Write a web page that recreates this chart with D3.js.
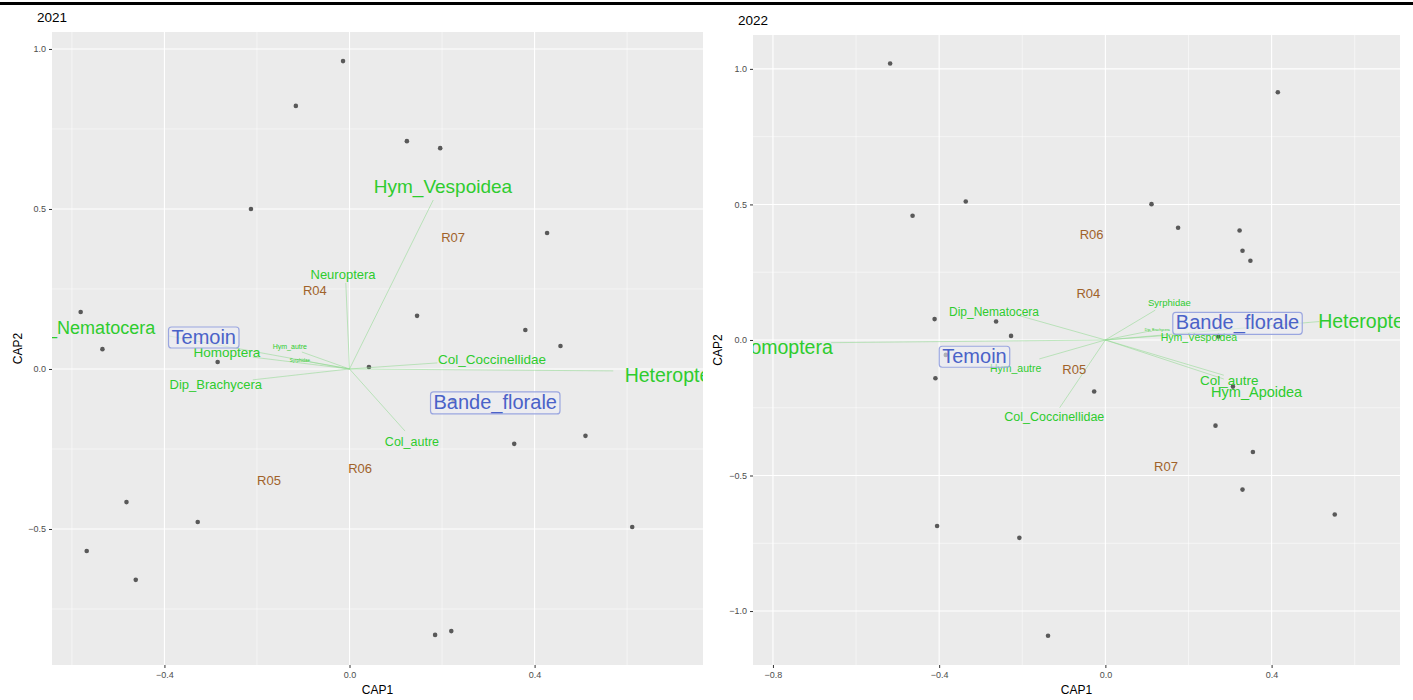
<!DOCTYPE html>
<html><head><meta charset="utf-8">
<script src="https://cdn.jsdelivr.net/npm/d3@7"></script>
<style>body{margin:0;background:#fff;} text{font-family:"Liberation Sans",Arial,sans-serif;}</style>
</head><body>
<svg id="c" width="1413" height="700"></svg>
<script>
// ---------- 2021 data ----------
const sites2021X = [-0.014,-0.116,0.124,0.196,-0.213,0.427,-0.581,0.146,0.380,-0.534,0.456,-0.285,0.042,0.356,0.510,-0.482,-0.328,-0.568,-0.462,0.611,0.185,0.220,0.225];
const sites2021Y = [0.962,0.822,0.712,0.690,0.500,0.425,0.178,0.166,0.122,0.062,0.072,0.022,0.006,-0.234,-0.209,-0.416,-0.478,-0.569,-0.659,-0.494,-0.831,-0.819,-0.100];
const env2021Names = ["Hym_Vespoidea","Neuroptera","Dip_Nematocera","Homoptera","Hym_autre","Syrphidae","Dip_Brachycera","Col_Coccinellidae","Heteroptera","Col_autre"];
const env2021TipX = [0.181,-0.008,-0.390,-0.209,-0.103,-0.086,-0.209,0.190,0.570,0.120];
const env2021TipY = [0.528,0.269,0.103,0.037,0.053,0.022,-0.034,0.019,-0.006,-0.194];
const env2021LabX = [0.202,-0.014,-0.566,-0.265,-0.129,-0.107,-0.289,0.308,0.706,0.135];
const env2021LabY = [0.569,0.294,0.128,0.053,0.069,0.025,-0.047,0.031,-0.019,-0.228];
const rep2021Names = ["R04","R07","R05","R06"];
const rep2021X = [-0.075,0.224,-0.174,0.023];
const rep2021Y = [0.244,0.410,-0.350,-0.312];
const trt2021Names = ["Temoin","Bande_florale"];
const trt2021X = [-0.315,0.315];
const trt2021Y = [0.100,-0.103];

// ---------- 2022 data ----------
const sites2022X = [-0.518,-0.464,-0.336,0.111,0.175,0.323,0.330,0.349,0.415,-0.411,-0.263,-0.227,-0.409,-0.027,0.272,0.307,0.265,0.355,0.330,0.552,-0.405,-0.207,-0.138,-0.384];
const sites2022Y = [1.020,0.458,0.511,0.501,0.414,0.404,0.329,0.292,0.914,0.077,0.068,0.015,-0.141,-0.190,0.013,-0.172,-0.316,-0.413,-0.552,-0.644,-0.686,-0.730,-1.091,-0.055];
const env2022Names = ["Homoptera","Dip_Nematocera","Hym_autre","Col_Coccinellidae","Syrphidae","Dip_Brachycera","Heteroptera","Hym_Vespoidea","Col_autre","Hym_Apoidea"];
const env2022TipX = [-0.660,-0.208,-0.159,-0.110,0.120,0.110,0.515,0.140,0.285,0.285];
const env2022TipY = [-0.010,0.090,-0.070,-0.250,0.110,0.034,0.068,0.016,-0.130,-0.144];
const env2022LabX = [-0.772,-0.268,-0.216,-0.123,0.154,0.125,0.636,0.225,0.298,0.364];
const env2022LabY = [-0.025,0.103,-0.105,-0.283,0.137,0.036,0.071,0.012,-0.151,-0.193];
const rep2022Names = ["R06","R04","R05","R07"];
const rep2022X = [-0.033,-0.041,-0.075,0.146];
const rep2022Y = [0.390,0.173,-0.109,-0.466];
const trt2022Names = ["Temoin","Bande_florale"];
const trt2022X = [-0.315,0.318];
const trt2022Y = [-0.060,0.065];

const xTicks2021 = [-0.4,0.0,0.4], xMinor2021 = [-0.6,-0.2,0.2,0.6];
const yTicks2021 = [1.0,0.5,0.0,-0.5], yMinor2021 = [0.75,0.25,-0.25,-0.75];
const xTicks2022 = [-0.8,-0.4,0.0,0.4], xMinor2022 = [-0.6,-0.2,0.2,0.6];
const yTicks2022 = [1.0,0.5,0.0,-0.5,-1.0], yMinor2022 = [0.75,0.25,-0.25,-0.75];

// label font sizes (style)
const sizes2021 = {"Hym_Vespoidea":19,"Neuroptera":13,"Dip_Nematocera":18,"Homoptera":13.5,"Hym_autre":7,"Syrphidae":4.5,"Dip_Brachycera":13,"Col_Coccinellidae":13.5,"Heteroptera":19.5,"Col_autre":12.5};
const sizes2022 = {"Homoptera":19.5,"Dip_Nematocera":12,"Hym_autre":10.5,"Col_Coccinellidae":12.5,"Syrphidae":9.5,"Dip_Brachycera":3.5,"Heteroptera":19.5,"Hym_Vespoidea":10.5,"Col_autre":13.5,"Hym_Apoidea":14.5};

const svg = d3.select("#c");
svg.append("rect").attr("x",0).attr("y",2).attr("width",1413).attr("height",3).attr("fill","#000");

function panel(o){
  const g = svg.append("g");
  const x = d3.scaleLinear().domain(o.xd).range([o.x0,o.x1]);
  const y = d3.scaleLinear().domain(o.yd).range([o.y1,o.y0]);
  const id = "clip"+o.title;
  svg.append("clipPath").attr("id",id).append("rect").attr("x",o.x0).attr("y",o.y0).attr("width",o.x1-o.x0).attr("height",o.y1-o.y0);
  g.append("rect").attr("x",o.x0).attr("y",o.y0).attr("width",o.x1-o.x0).attr("height",o.y1-o.y0).attr("fill","#EBEBEB");
  const pg = g.append("g").attr("clip-path",`url(#${id})`);
  pg.selectAll(".vm").data(o.xMinor).join("line").attr("x1",d=>x(d)).attr("x2",d=>x(d)).attr("y1",o.y0).attr("y2",o.y1).attr("stroke","#fff").attr("stroke-width",0.5);
  pg.selectAll(".hm").data(o.yMinor).join("line").attr("y1",d=>y(d)).attr("y2",d=>y(d)).attr("x1",o.x0).attr("x2",o.x1).attr("stroke","#fff").attr("stroke-width",0.5);
  pg.selectAll(".vM").data(o.xTicks).join("line").attr("x1",d=>x(d)).attr("x2",d=>x(d)).attr("y1",o.y0).attr("y2",o.y1).attr("stroke","#fff").attr("stroke-width",1.1);
  pg.selectAll(".hM").data(o.yTicks).join("line").attr("y1",d=>y(d)).attr("y2",d=>y(d)).attr("x1",o.x0).attr("x2",o.x1).attr("stroke","#fff").attr("stroke-width",1.1);
  // points
  pg.selectAll(".pt").data(o.sx.map((v,i)=>[v,o.sy[i]])).join("circle").attr("cx",d=>x(d[0])).attr("cy",d=>y(d[1])).attr("r",2.3).attr("fill","#595959");
  // env vectors
  const env = o.en.map((n,i)=>({n, tx:o.tx[i], ty:o.ty[i], lx:o.lx[i], ly:o.ly[i]}));
  pg.selectAll(".seg").data(env).join("line").attr("x1",x(0)).attr("y1",y(0)).attr("x2",d=>x(d.tx)).attr("y2",d=>y(d.ty)).attr("stroke","#8fd88f").attr("stroke-opacity",0.55).attr("stroke-width",1);
  pg.selectAll(".el").data(env).join("text").attr("x",d=>x(d.lx)).attr("y",d=>y(d.ly)).attr("text-anchor","middle").attr("dominant-baseline","central")
    .attr("font-size",d=>o.sizes[d.n]).attr("fill","#2ecc2e").text(d=>d.n);
  // replicate labels
  pg.selectAll(".rl").data(o.rn.map((n,i)=>({n,x:o.rx[i],y:o.ry[i]}))).join("text").attr("x",d=>x(d.x)).attr("y",d=>y(d.y)).attr("text-anchor","middle").attr("dominant-baseline","central")
    .attr("font-size",13).attr("fill","#a0622a").text(d=>d.n);
  // treatment labels
  const tg = pg.selectAll(".tl").data(o.trn.map((n,i)=>({n,x:o.trx[i],y:o.try_[i]}))).join("g");
  tg.append("text").attr("x",d=>x(d.x)).attr("y",d=>y(d.y)).attr("text-anchor","middle").attr("dominant-baseline","central")
    .attr("font-size",20).attr("fill","#4a62c8").text(d=>d.n);
  tg.each(function(){
    const t = d3.select(this).select("text"); const b = t.node().getBBox();
    d3.select(this).insert("rect","text").attr("x",b.x-3).attr("y",b.y+1).attr("width",b.width+6).attr("height",b.height-1).attr("rx",3)
      .attr("fill","#ececf4").attr("fill-opacity",0.6).attr("stroke","#9aa6e0").attr("stroke-width",1.2);
  });
  // axes
  const ax = g.append("g").attr("transform",`translate(0,${o.y1})`).call(d3.axisBottom(x).tickValues(o.xTicks).tickFormat(d3.format(".1f")).tickSize(3).tickPadding(4));
  const ay = g.append("g").attr("transform",`translate(${o.x0},0)`).call(d3.axisLeft(y).tickValues(o.yTicks).tickFormat(d3.format(".1f")).tickSize(3).tickPadding(3));
  [ax,ay].forEach(a=>{a.select(".domain").remove(); a.selectAll("line").attr("stroke","#333"); a.selectAll("text").attr("fill","#4d4d4d").attr("font-size",9).attr("font-family","Liberation Sans, Arial, sans-serif");});
  g.append("text").attr("x",(o.x0+o.x1)/2).attr("y",o.y1+29).attr("text-anchor","middle").attr("font-size",12).attr("fill","#000").text("CAP1");
  g.append("text").attr("transform",`translate(${o.ytx},${(o.y0+o.y1)/2}) rotate(-90)`).attr("text-anchor","middle").attr("font-size",12).attr("fill","#000").text("CAP2");
  g.append("text").attr("x",o.tx0).attr("y",o.ty0).attr("font-size",13.5).attr("fill","#000").text(o.title);
}

panel({title:"2021", x0:52,x1:703,y0:32,y1:665, xd:[-0.643,0.764], yd:[-0.925,1.053],
  xTicks:xTicks2021,xMinor:xMinor2021,yTicks:yTicks2021,yMinor:yMinor2021,
  sx:sites2021X,sy:sites2021Y,en:env2021Names,tx:env2021TipX,ty:env2021TipY,lx:env2021LabX,ly:env2021LabY,sizes:sizes2021,
  rn:rep2021Names,rx:rep2021X,ry:rep2021Y,trn:trt2021Names,trx:trt2021X,try_:trt2021Y, ytx:22, tx0:37, ty0:22});
panel({title:"2022", x0:753,x1:1400,y0:35,y1:665, xd:[-0.848,0.709], yd:[-1.199,1.125],
  xTicks:xTicks2022,xMinor:xMinor2022,yTicks:yTicks2022,yMinor:yMinor2022,
  sx:sites2022X,sy:sites2022Y,en:env2022Names,tx:env2022TipX,ty:env2022TipY,lx:env2022LabX,ly:env2022LabY,sizes:sizes2022,
  rn:rep2022Names,rx:rep2022X,ry:rep2022Y,trn:trt2022Names,trx:trt2022X,try_:trt2022Y, ytx:722, tx0:738, ty0:25});
</script>
</body></html>
